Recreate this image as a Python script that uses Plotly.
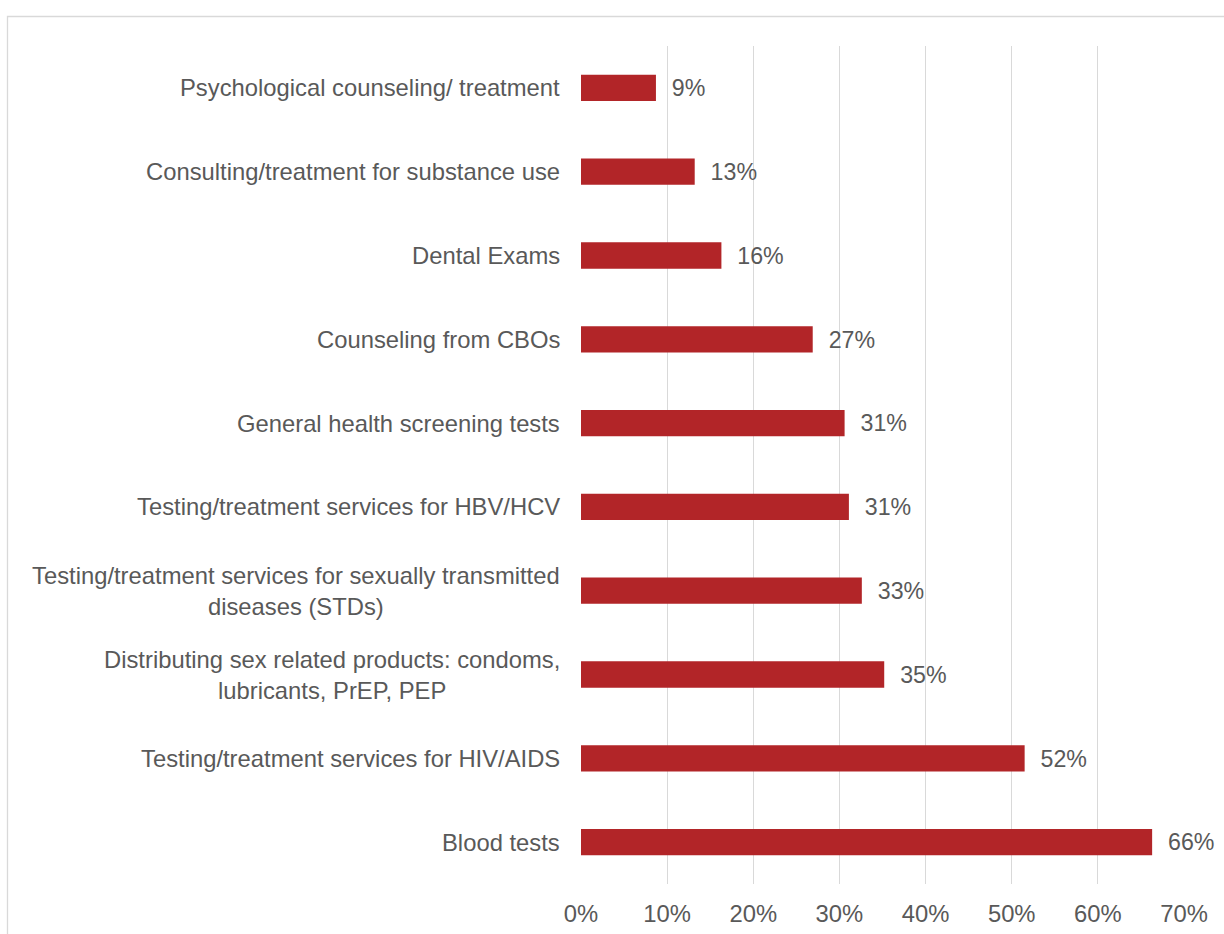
import plotly.graph_objects as go

# Services, listed top to bottom
services = [
    "Psychological counseling/ treatment",
    "Consulting/treatment for substance use",
    "Dental Exams",
    "Counseling from CBOs",
    "General health screening tests",
    "Testing/treatment services for HBV/HCV",
    "Testing/treatment services for sexually transmitted<br>diseases (STDs)",
    "Distributing sex related products: condoms,<br>lubricants, PrEP, PEP",
    "Testing/treatment services for HIV/AIDS",
    "Blood tests",
]
shares = [0.087, 0.132, 0.163, 0.269, 0.306, 0.311, 0.326, 0.352, 0.515, 0.663]
x_ticks = [0, 0.1, 0.2, 0.3, 0.4, 0.5, 0.6, 0.7]
x_tick_labels = ["0%", "10%", "20%", "30%", "40%", "50%", "60%", "70%"]

BAR = "#B22528"
TEXT = "#595959"
GRID = "#D9D9D9"
FONT = "Liberation Sans, Arial, sans-serif"
FS = 23.8

W, H = 1224, 934
ML, MR, MT, MB = 581, 40, 46, 50
PW, PH = W - ML - MR, H - MT - MB


def px_to_paper_x(px):
    return (px - ML) / PW


def px_to_paper_y(py):
    return 1 - (py - MT) / PH


fig = go.Figure(
    go.Bar(
        x=shares,
        y=services,
        orientation="h",
        marker=dict(color=BAR, line=dict(width=0)),
        width=0.314,
        texttemplate="\u00a0\u00a0%{x:.0%}",
        textposition="outside",
        textfont=dict(family=FONT, size=FS, color=TEXT),
        cliponaxis=False,
        hoverinfo="skip",
    )
)

# Category labels, centred line by line and right-aligned against the plot
annotations = [
    dict(
        x=0, xref="paper", y=s, yref="y",
        text=s, showarrow=False,
        xanchor="right", yanchor="middle", align="center",
        xshift=-19,
        font=dict(family=FONT, size=FS, color=TEXT),
    )
    for s in services
]

# Light outer frame around the chart
shapes = [
    dict(
        type="rect", xref="paper", yref="paper",
        x0=px_to_paper_x(7.5), x1=px_to_paper_x(W + 20),
        y0=px_to_paper_y(H + 20), y1=px_to_paper_y(16.5),
        line=dict(color=GRID, width=1.3), fillcolor="rgba(0,0,0,0)",
        layer="below",
    )
]

fig.update_layout(
    width=W, height=H,
    margin=dict(l=ML, r=MR, t=MT, b=MB, pad=0, autoexpand=False),
    paper_bgcolor="white", plot_bgcolor="white",
    showlegend=False,
    annotations=annotations,
    shapes=shapes,
    xaxis=dict(
        range=[0, 0.7],
        tickvals=x_ticks, ticktext=x_tick_labels,
        showgrid=True, gridcolor=GRID, gridwidth=1.3,
        zeroline=False, showline=False, automargin=False,
        ticks="outside", ticklen=8, tickcolor="rgba(0,0,0,0)",
        tickfont=dict(family=FONT, size=FS, color=TEXT),
        fixedrange=True,
    ),
    yaxis=dict(
        categoryorder="array", categoryarray=services,
        autorange="reversed", automargin=False,
        showticklabels=False, showgrid=False, zeroline=False, showline=False,
        ticks="", fixedrange=True,
    ),
)

fig.write_html("out.html")
